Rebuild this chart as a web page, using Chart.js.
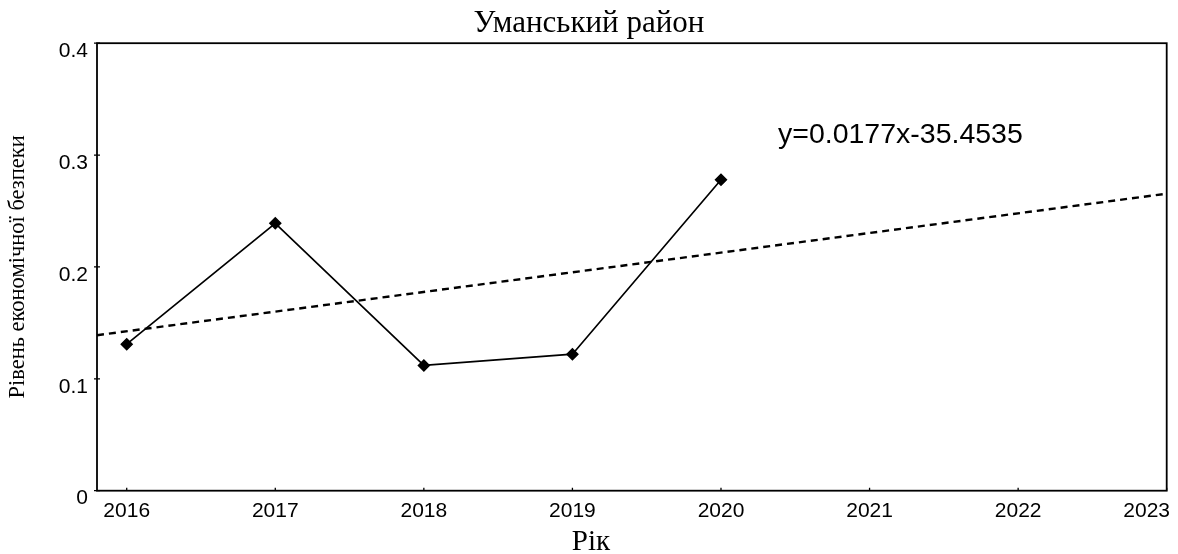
<!DOCTYPE html>
<html lang="uk">
<head>
    <meta charset="UTF-8">
    <script src="https://cdn.jsdelivr.net/npm/chart.js"></script>
    <title>Уманський район</title>
    <style>
        body {
            margin: 0;
            background: #fff;
        }
        #wrap {
            width: 1178px;
            height: 554px;
        }
    </style>
</head>
<body>
<div id="wrap"><canvas id="myChart"></canvas></div>
<script>
    // data
    const years = [2016, 2017, 2018, 2019, 2020, 2021, 2022, 2023];
    const dataYears = [2016, 2017, 2018, 2019, 2020];
    const levels = [0.131, 0.239, 0.112, 0.122, 0.278];
    const trendX = [2015.8, 2023];
    const trendY = [0.139, 0.2655];
    const yTicks = [0, 0.1, 0.2, 0.3, 0.4];
    const equation = 'y=0.0177x-35.4535';

    const SANS = "'Liberation Sans', Arial, sans-serif";
    const SERIF = "'Liberation Serif', 'Times New Roman', serif";

    // frame, tick marks, x labels, x title and equation
    const decor = {
        id: 'decor',
        afterDraw(chart) {
            const {ctx, chartArea: a, scales: {x, y}} = chart;
            ctx.save();
            ctx.strokeStyle = '#000';
            ctx.lineWidth = 1.8;
            ctx.strokeRect(a.left, a.top, a.right - a.left, a.bottom - a.top);

            ctx.lineWidth = 1.3;
            ctx.beginPath();
            yTicks.forEach(v => {
                const py = y.getPixelForValue(v);
                ctx.moveTo(a.left - 3, py);
                ctx.lineTo(a.left + 3, py);
            });
            years.forEach(v => {
                const px = x.getPixelForValue(v);
                ctx.moveTo(px, a.bottom);
                ctx.lineTo(px, a.bottom - 3);
            });
            ctx.stroke();

            ctx.fillStyle = '#000';
            ctx.font = '21px ' + SANS;
            ctx.textBaseline = 'alphabetic';
            ctx.textAlign = 'left';
            years.forEach(v => {
                const txt = String(v);
                const w = ctx.measureText(txt).width;
                let left = x.getPixelForValue(v) - w / 2;
                if (left + w > chart.width - 8) left = chart.width - 8 - w;
                ctx.fillText(txt, left, a.bottom + 26);
            });

            ctx.font = '28.5px ' + SANS;
            ctx.fillText(equation, 778, 143);

            ctx.textAlign = 'center';
            ctx.font = '29px ' + SERIF;
            ctx.fillText('Рік', 591, 550);
            ctx.restore();
        }
    };

    const ctx = document.getElementById('myChart');
    new Chart(ctx, {
        type: 'line',
        data: {
            datasets: [
                {
                    label: 'Рівень',
                    data: dataYears.map((yr, i) => ({x: yr, y: levels[i]})),
                    borderColor: '#000',
                    borderWidth: 1.7,
                    backgroundColor: '#000',
                    pointStyle: 'rectRot',
                    pointRadius: 5.5,
                    pointBorderWidth: 1.4,
                    tension: 0
                },
                {
                    label: 'Тренд',
                    data: trendX.map((xv, i) => ({x: xv, y: trendY[i]})),
                    borderColor: '#000',
                    borderWidth: 2.4,
                    borderDash: [7, 5],
                    pointRadius: 0,
                    fill: false
                }
            ]
        },
        options: {
            responsive: true,
            maintainAspectRatio: false,
            animation: false,
            layout: {padding: {left: 0, right: 0, top: 0, bottom: 0}},
            plugins: {
                legend: {display: false},
                tooltip: {enabled: false},
                title: {
                    display: true,
                    text: 'Уманський район',
                    color: '#000',
                    font: {family: SERIF, size: 31, weight: 'normal'},
                    padding: {top: 5, bottom: 1}
                }
            },
            scales: {
                x: {
                    type: 'linear',
                    min: 2015.8,
                    max: 2023,
                    grid: {display: false, drawTicks: false},
                    border: {display: false},
                    ticks: {display: true, color: 'rgba(0,0,0,0)', stepSize: 1, includeBounds: false,
                            font: {family: SANS, size: 21}},
                    afterFit(s) {
                        s.height = 63.3;
                        s.paddingRight = 11.3;
                        s.paddingLeft = 0;
                    }
                },
                y: {
                    min: 0,
                    max: 0.4,
                    grid: {display: false, drawTicks: false},
                    border: {display: false},
                    ticks: {
                        stepSize: 0.1,
                        color: '#000',
                        padding: 9,
                        labelOffset: 8,
                        font: {family: SANS, size: 21},
                        callback: v => v === 0 ? '0' : v.toFixed(1)
                    },
                    title: {
                        display: true,
                        text: 'Рівень економічної безпеки',
                        color: '#000',
                        font: {family: SERIF, size: 22.5},
                        padding: {top: 5, bottom: 0}
                    },
                    afterFit(s) {
                        s.width = 97;
                    }
                }
            }
        },
        plugins: [decor]
    });
</script>
</body>
</html>
